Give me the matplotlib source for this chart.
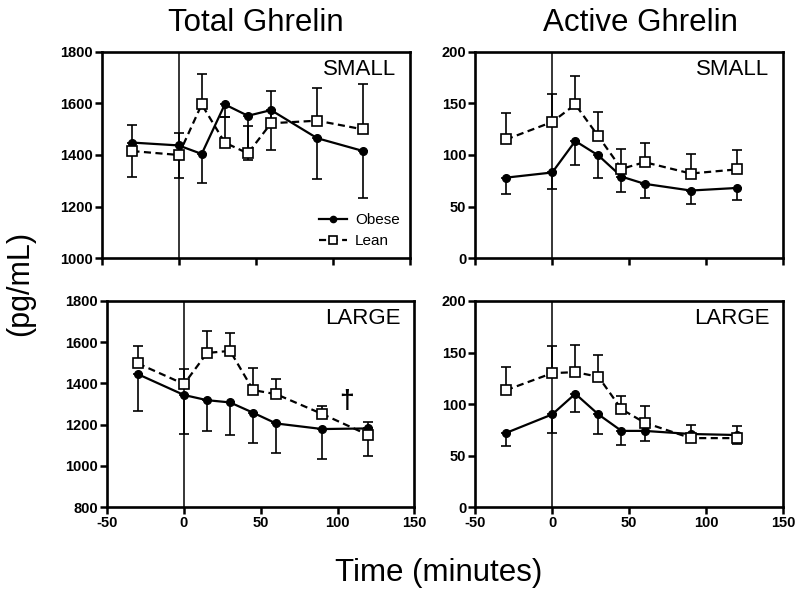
import numpy as np
import matplotlib.pyplot as plt
from matplotlib.lines import Line2D

plt.rcParams['font.family'] = ['Liberation Sans', 'DejaVu Sans']
plt.rcParams['axes.unicode_minus'] = False

# sampling times (minutes)
times = [-30, 0, 15, 30, 45, 60, 90, 120]

# Total ghrelin, SMALL meal
tot_small_obese = [1448, 1437, 1404, 1596, 1552, 1574, 1465, 1415]
tot_small_obese_err = [132, 127, 114, 48, 171, 155, 157, 181]
tot_small_lean = [1415, 1400, 1596, 1448, 1406, 1523, 1533, 1499]
tot_small_lean_err = [100, 86, 118, 100, 106, 126, 126, 178]

# Active ghrelin, SMALL meal
act_small_obese = [78, 83, 113.5, 99.5, 79, 72, 65.5, 68]
act_small_obese_err = [16, 16, 23.5, 22, 15, 14, 13.5, 12]
act_small_lean = [115, 132, 149, 118, 86.5, 93, 82, 86]
act_small_lean_err = [25.7, 26.8, 28, 24, 19.5, 19, 19, 19]

# Total ghrelin, LARGE meal
tot_large_obese = [1445, 1344, 1319, 1308, 1258, 1206, 1179, 1182]
tot_large_obese_err = [179, 189, 150, 160, 145, 145, 147, 134]
tot_large_lean = [1497, 1397, 1548, 1558, 1368, 1348, 1252, 1150]
tot_large_lean_err = [84, 72, 105, 89, 105, 75, 38, 65]

# Active ghrelin, LARGE meal
act_large_obese = [72, 90, 110, 90, 74, 74, 71, 70]
act_large_obese_err = [12.3, 17.7, 17.4, 19, 13.7, 9.5, 8, 8.7]
act_large_lean = [113.5, 130, 131, 126.5, 95, 82, 67, 67]
act_large_lean_err = [22.5, 26, 26, 21.5, 12.7, 16, 12.4, 12]

x_ticks = [-50, 0, 50, 100, 150]

lean_dash = (0, (3.2, 2.0))

fig = plt.figure(figsize=(8, 5.96), dpi=100)

# axes placed by hand to follow the original layout
ax_tl = fig.add_axes([0.127, 0.567, 0.385, 0.346])
ax_tr = fig.add_axes([0.594, 0.567, 0.385, 0.346])
ax_bl = fig.add_axes([0.134, 0.149, 0.384, 0.346])
ax_br = fig.add_axes([0.594, 0.149, 0.385, 0.346])


def draw_panel(ax, obese, obese_err, lean, lean_err, ylim, yticks, label, xlabels=True):
    n = len(times)
    zeros = [0] * n
    ax.axvline(0, color='black', lw=1.1, zorder=1)
    ax.errorbar(times, obese, yerr=[obese_err, zeros], color='black', lw=1.6,
                marker='o', markersize=5.5, capsize=3.6, elinewidth=1.2,
                capthick=1.2, zorder=3)
    ax.errorbar(times, lean, yerr=[zeros, lean_err], color='black', lw=1.6,
                ls=lean_dash, marker='s', markersize=7,
                markerfacecolor='white', markeredgewidth=1.2, capsize=3.6,
                elinewidth=1.2, capthick=1.2, zorder=4)
    ax.set_xlim(-50, 150)
    ax.set_ylim(*ylim)
    ax.set_xticks(x_ticks)
    ax.set_yticks(yticks)
    ax.tick_params(direction='out', length=5, width=1.8, labelsize=10.5, pad=1.5)
    for lab in ax.get_xticklabels() + ax.get_yticklabels():
        lab.set_fontweight('bold')
    if not xlabels:
        ax.set_xticklabels([])
    for sp in ax.spines.values():
        sp.set_linewidth(1.9)
    ax.text(0.955, 0.965, label, transform=ax.transAxes, ha='right', va='top',
            fontsize=16)


draw_panel(ax_tl, tot_small_obese, tot_small_obese_err, tot_small_lean,
           tot_small_lean_err, (1000, 1800), [1000, 1200, 1400, 1600, 1800],
           'SMALL', xlabels=False)
draw_panel(ax_tr, act_small_obese, act_small_obese_err, act_small_lean,
           act_small_lean_err, (0, 200), [0, 50, 100, 150, 200],
           'SMALL', xlabels=False)
draw_panel(ax_bl, tot_large_obese, tot_large_obese_err, tot_large_lean,
           tot_large_lean_err, (800, 1800), [800, 1000, 1200, 1400, 1600, 1800],
           'LARGE')
draw_panel(ax_br, act_large_obese, act_large_obese_err, act_large_lean,
           act_large_lean_err, (0, 200), [0, 50, 100, 150, 200],
           'LARGE')

# dagger marking the significant difference
ax_bl.text(106, 1315, '\u2020', ha='center', va='center', fontsize=19,
           fontweight='bold')

handles = [
    Line2D([], [], color='black', lw=1.6, marker='o', markersize=4.5),
    Line2D([], [], color='black', lw=1.6, ls=lean_dash, marker='s', markersize=6,
           markerfacecolor='white', markeredgewidth=1.2),
]
ax_tl.legend(handles, ['Obese', 'Lean'], loc='lower right', frameon=False,
             fontsize=11, handlelength=1.8, handletextpad=0.55,
             labelspacing=0.45, borderaxespad=0.25)

fig.text(0.32, 0.962, 'Total Ghrelin', ha='center', va='center', fontsize=22.5)
fig.text(0.80, 0.962, 'Active Ghrelin', ha='center', va='center', fontsize=22.5)
fig.text(0.548, 0.038, 'Time (minutes)', ha='center', va='center', fontsize=22.5)
fig.text(0.025, 0.524, '(pg/mL)', ha='center', va='center', rotation=90,
         fontsize=22)

fig.savefig('out.png', dpi=100)
